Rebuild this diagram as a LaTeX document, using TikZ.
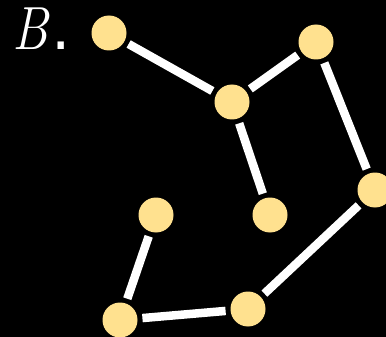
\documentclass[tikz,border=0pt]{standalone}
\usepackage{fontspec}
\usepackage{tikz}
\newfontfamily\dotfont{DejaVu Sans}
\definecolor{vertexfill}{RGB}{255,225,143}
\begin{document}
\begin{tikzpicture}[x=1pt, y=-1pt]
	\tikzstyle{vertex} = [circle, fill=vertexfill, minimum size=35pt, inner sep=0pt, outer sep=5pt]
	\tikzstyle{edge} = [white, line width=8.5pt]
	
	% Black background fixes the size
	\fill[black] (0,0) rectangle (386,337);
	\useasboundingbox (0,0) rectangle (386,337);
	
	% Panel label
	\node[white, anchor=base west, inner sep=0pt] (label) at (12,50) {\fontsize{61}{64}\selectfont \scalebox{0.85}[1]{\textit{B}}\kern2pt{\dotfont .}};
	
	% Define nodes with circular style
	\node[vertex] (P1) at (109,33) {};
	\node[vertex] (P2) at (316,42) {};
	\node[vertex] (P3) at (232,102) {};
	\node[vertex] (P4) at (375,190) {};
	\node[vertex] (P5) at (270,215) {};
	\node[vertex] (P6) at (156,215) {};
	\node[vertex] (P7) at (248,309) {};
	\node[vertex] (P8) at (120,320) {};
	
	% Draw straight edges
	\draw[edge] (P1) -- (P3);
	\draw[edge] (P3) -- (P2);
	\draw[edge] (P2) -- (P4);
	\draw[edge] (P3) -- (P5);
	\draw[edge] (P4) -- (P7);
	\draw[edge] (P7) -- (P8);
	\draw[edge] (P8) -- (P6);
	
\end{tikzpicture}
\end{document}
